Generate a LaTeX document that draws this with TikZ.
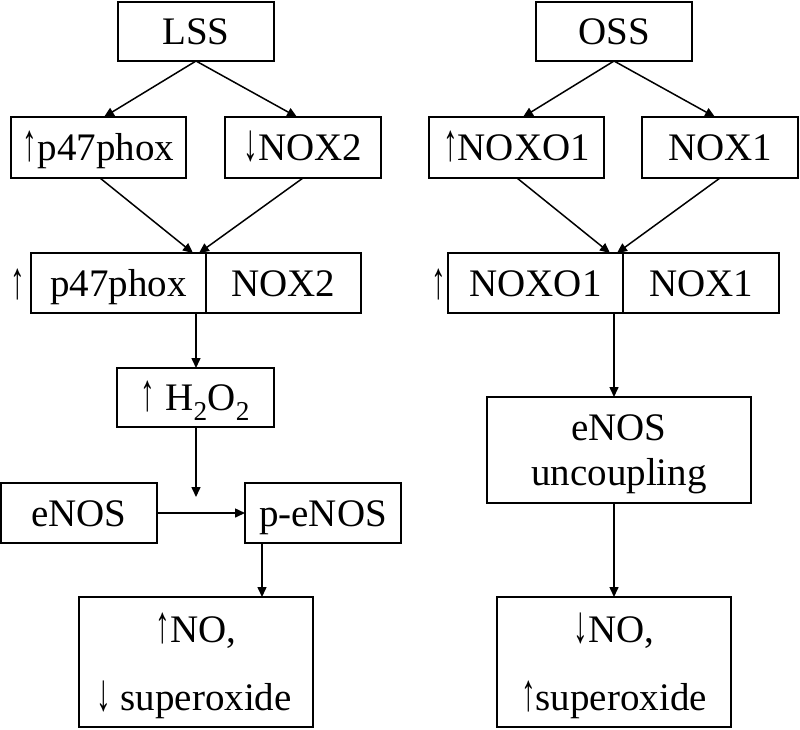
\documentclass[tikz,border=0pt]{standalone}
\usepackage{fontspec}
\usepackage{graphicx}
\setmainfont{Liberation Serif}
\usetikzlibrary{arrows.meta,calc}
\newcommand{\uparr}{\scalebox{0.75}[1.35]{↑}}
\newcommand{\dnarr}{\scalebox{0.75}[1.35]{↓}}
\begin{document}
\begin{tikzpicture}[x=1pt,y=-1pt,
  box/.style={draw,line width=1.6pt,inner sep=0pt,outer sep=0pt,
    text height=26pt,text depth=0pt,font=\fontsize{39}{45}\selectfont},
  emptybox/.style={draw,line width=1.6pt,inner sep=0pt,outer sep=0pt},
  txt/.style={inner sep=0pt,font=\fontsize{39}{45}\selectfont},
  arr/.style={line width=1.5pt,-{Triangle[length=10pt,width=9pt]}}]
\useasboundingbox (0,0) rectangle (800,729);
% left column
\node[box,minimum width=156pt,minimum height=59pt] (LSS) at (196,31.5) {LSS};
\node[box,minimum width=175pt,minimum height=61pt] (p47) at (98.5,147.5) {\uparr p47phox};
\node[box,minimum width=156pt,minimum height=61pt] (NOX2) at (303,147.5) {\dnarr NOX2};
\node[box,minimum width=175pt,minimum height=60pt] (L1) at (118.5,283) {p47phox};
\node[box,minimum width=155pt,minimum height=60pt] (L2) at (283.5,283) {NOX2};
\node[txt,text height=30pt,text depth=0pt] (Lup) at (18,283) {\uparr};
\node[box,minimum width=157pt,minimum height=59pt] (H2O2) at (195.5,397.5) {\uparr\ H\textsubscript{2}O\textsubscript{2}};
\coordinate (hend) at (196,497);
\node[box,minimum width=156pt,minimum height=60pt] (eNOS) at (79,513) {eNOS};
\node[box,minimum width=156pt,minimum height=60pt] (peNOS) at (323,513) {p-eNOS};
\node[emptybox,minimum width=234pt,minimum height=130pt] (resL) at (196,662) {};
\node[txt,anchor=base] (resLa) at (196,642) {\uparr NO,};
\node[txt,anchor=base] (resLb) at (194,710) {\dnarr\ superoxide};
% right column
\node[box,minimum width=156pt,minimum height=59pt] (OSS) at (614,31.5) {OSS};
\node[box,minimum width=175pt,minimum height=61pt] (NOXO1) at (516.5,147.5) {\uparr NOXO1};
\node[box,minimum width=156pt,minimum height=61pt] (NOX1) at (720,147.5) {NOX1};
\node[box,minimum width=175pt,minimum height=60pt] (R1) at (535.5,283) {NOXO1};
\node[box,minimum width=156pt,minimum height=60pt] (R2) at (701,283) {NOX1};
\node[txt,text height=30pt,text depth=0pt] (Rup) at (439,283) {\uparr};
\node[emptybox,minimum width=264pt,minimum height=106pt] (unc) at (619,450) {};
\node[txt,anchor=base] (unca) at (619,440) {eNOS};
\node[txt,anchor=base] (uncb) at (619,485) {uncoupling};
\node[emptybox,minimum width=234pt,minimum height=130pt] (resR) at (614,662) {};
\node[txt,anchor=base] (resRa) at (614,642) {\dnarr NO,};
\node[txt,anchor=base] (resRb) at (614,710) {\uparr superoxide};
% arrows left
\draw[arr] (LSS.south) -- ([xshift=5.5pt]p47.north);
\draw[arr] (LSS.south) -- ([xshift=-6pt]NOX2.north);
\draw[arr] ([xshift=1.5pt]p47.south) -- ([xshift=-13pt]L1.north east);
\draw[arr] (NOX2.south) -- ([xshift=-7pt]L1.north east);
\draw[arr] ([xshift=-10pt]L1.south east) -- ([xshift=-10pt]L1.south east |- H2O2.north);
\draw[arr] ([xshift=0.5pt]H2O2.south) -- (hend);
\draw[arr] (eNOS.east) -- (peNOS.west);
\draw[arr] ([xshift=-61pt]peNOS.south) -- ([xshift=-61pt]peNOS.south |- resL.north);
% arrows right
\draw[arr] (OSS.south) -- ([xshift=6.5pt]NOXO1.north);
\draw[arr] (OSS.south) -- ([xshift=-5pt]NOX1.north);
\draw[arr] ([xshift=0.5pt]NOXO1.south) -- ([xshift=-13pt]R1.north east);
\draw[arr] (NOX1.south) -- ([xshift=-6pt]R1.north east);
\draw[arr] ([xshift=-9pt]R1.south east) -- ([xshift=-9pt]R1.south east |- unc.north);
\draw[arr] ([xshift=-5pt]unc.south) -- (resR.north);
\end{tikzpicture}
\end{document}
